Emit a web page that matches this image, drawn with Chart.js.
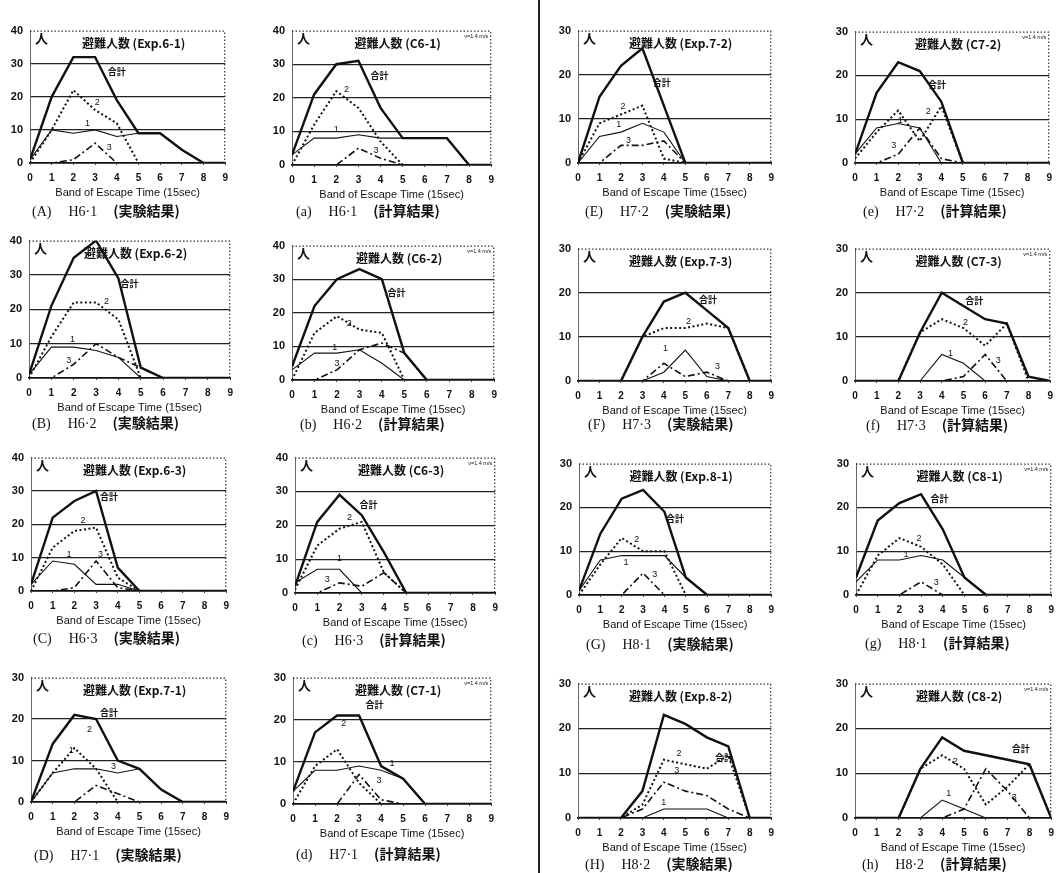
<!DOCTYPE html>
<html><head><meta charset="utf-8">
<script src="https://cdn.jsdelivr.net/npm/chart.js@4.4.1/dist/chart.umd.min.js"></script>
<style>
html,body{margin:0;padding:0;background:#fff;}
body{width:1060px;height:873px;position:relative;overflow:hidden;}
canvas{position:absolute;}
.cap{position:absolute;font-size:14px;color:#111;white-space:nowrap;line-height:16px;}
.cap span{display:inline-block;}
.cap .a{font-family:'Liberation Serif',serif;}
.cap .b{font-family:'Liberation Serif',serif;margin-left:17px;}
.cap .c{font-family:'Noto Sans CJK JP',sans-serif;font-weight:bold;margin-left:16px;}
#divider{position:absolute;left:538px;top:0;width:2px;height:873px;background:#222;}
</style></head>
<body>
<div id="divider"></div>
<script>
// ---- categories ----
const BANDS = [0,1,2,3,4,5,6,7,8,9];
const SERIES_NAMES = ['合計','1','2','3'];

// ---- values (people per band): total, 1, 2, 3 ----
const A_total=[1,20,32,32,19,9,9,4,0,0], A_s1=[1,10,9,10,8,9,9,4,0,0], A_s2=[0,10,22,16,12,0,0,0,0,0], A_s3=[0,0,1,6,0,0,0,0,0,0];
const a_total=[3,21,30,31,17,8,8,8,0,0], a_s1=[3,8,8,9,8,8,8,8,0,0], a_s2=[0,12,22,17,7,0,0,0,0,0], a_s3=[0,0,0,5,2,0,0,0,0,0];
const E_total=[0,15,22,26,13,0,0,0,0,0], E_s1=[0,6,7,9,7,0,0,0,0,0], E_s2=[0,9,11,13,1,0,0,0,0,0], E_s3=[0,0,4,4,5,0,0,0,0,0];
const e_total=[2,16,23,21,14,0,0,0,0,0], e_s1=[2,8,9,8,0,0,0,0,0,0], e_s2=[1,7,12,5,13,0,0,0,0,0], e_s3=[0,0,2,8,1,0,0,0,0,0];
const B_total=[1,21,35,40,29,3,0,0,0,0], B_s1=[1,9,9,8,6,0,0,0,0,0], B_s2=[0,12,22,22,17,0,0,0,0,0], B_s3=[0,0,4,10,6,3,0,0,0,0];
const b_total=[4,22,30,33,30,8,0,0,0,0], b_s1=[3,8,8,9,5,0,0,0,0,0], b_s2=[0,14,19,15,14,0,0,0,0,0], b_s3=[0,0,3,9,11,8,0,0,0,0];
const F_total=[0,0,0,10,18,20,16,12,0,0], F_s1=[0,0,0,0,2,7,1,0,0,0], F_s2=[0,0,0,10,12,12,13,12,0,0], F_s3=[0,0,0,0,4,1,2,0,0,0];
const f_total=[0,0,0,11,20,17,14,13,1,0], f_s1=[0,0,0,0,6,4,0,0,0,0], f_s2=[0,0,0,11,14,12,8,13,0,0], f_s3=[0,0,0,0,0,1,6,0,0,0];
const C_total=[2,22,27,30,7,0,0,0,0,0], C_s1=[2,9,8,2,2,0,0,0,0,0], C_s2=[0,13,18,19,4,0,0,0,0,0], C_s3=[0,0,1,9,1,0,0,0,0,0];
const c_total=[2,21,29,23,12,0,0,0,0,0], c_s1=[3,7,7,0,0,0,0,0,0,0], c_s2=[1,14,19,21,6,0,0,0,0,0], c_s3=[0,0,3,2,6,0,0,0,0,0];
const G_total=[1,14,22,24,19,4,0,0,0,0], G_s1=[1,8,9,9,9,4,0,0,0,0], G_s2=[0,7,13,10,10,0,0,0,0,0], G_s3=[0,0,0,5,0,0,0,0,0,0];
const g_total=[4,17,21,23,15,4,0,0,0,0], g_s1=[3,8,8,9,8,4,0,0,0,0], g_s2=[0,9,13,11,7,0,0,0,0,0], g_s3=[0,0,0,3,0,0,0,0,0,0];
const D_total=[0,14,21,20,10,8,3,0,0,0], D_s1=[0,7,8,8,7,8,3,0,0,0], D_s2=[0,7,13,8,0,0,0,0,0,0], D_s3=[0,0,0,4,2,0,0,0,0,0];
const d_total=[3,17,21,21,9,6,0,0,0,0], d_s1=[3,8,8,9,8,6,0,0,0,0], d_s2=[0,9,13,5,0,0,0,0,0,0], d_s3=[0,0,0,7,1,0,0,0,0,0];
const H_total=[0,0,0,6,23,21,18,16,0,0], H_s1=[0,0,0,0,2,2,2,0,0,0], H_s2=[0,0,0,3,13,12,11,14,0,0], H_s3=[0,0,0,2,8,6,5,2,0,0];
const h_total=[0,0,0,11,18,15,14,13,12,0], h_s1=[0,0,0,0,4,2,0,0,0,0], h_s2=[0,0,0,11,14,11,3,7,12,0], h_s3=[0,0,0,0,0,2,11,6,0,0];

// ---- label anchors (band, people): 合計, 1, 2, 3 ----
const A_lbl=[[4.0,27.5],[2.65,11.9],[3.1,18.3],[3.65,4.6]];
const a_lbl=[[3.95,26.6],[2.0,10.6],[2.46,22.6],[3.8,4.3]];
const E_lbl=[[3.9,18.3],[1.9,8.7],[2.1,12.8],[2.35,5.2]];
const e_lbl=[[3.8,17.9],[2.1,9.8],[3.4,11.8],[1.8,4.1]];
const B_lbl=[[4.5,27.4],[1.95,11.2],[3.47,22.4],[1.78,5]];
const b_lbl=[[4.65,26],[1.9,9.7],[2.55,16.9],[2.0,4.9]];
const F_lbl=[[6.05,18.5],[4.07,7.4],[5.15,13.5],[6.5,3.3]];
const f_lbl=[[5.5,18.3],[4.4,6.3],[5.1,13.3],[6.6,4.6]];
const C_lbl=[[3.6,28.2],[1.75,11],[2.4,21],[3.2,11]];
const c_lbl=[[3.3,26],[2.0,10.2],[2.45,22.4],[1.45,4]];
const G_lbl=[[4.5,17.5],[2.2,7.4],[2.7,12.7],[3.55,4.6]];
const g_lbl=[[3.85,21.9],[2.3,9.2],[2.9,12.9],[3.7,2.8]];
const D_lbl=[[3.6,21.5],[1.85,12.5],[2.7,17.5],[3.8,8.5]];
const d_lbl=[[3.7,23.5],[4.5,9.5],[2.3,19],[3.9,5.5]];
const H_lbl=[[6.8,13.5],[4.0,3.5],[4.7,14.5],[4.6,10.5]];
const h_lbl=[[7.6,15.5],[4.3,5.5],[4.6,12.5],[7.3,4.5]];

const X_TITLE = 'Band of Escape Time (15sec)';

const PANELS = [
 {title:'避難人数 (Exp.6-1)', ymax:40, calc:false, cap:['(A)','H6·1','(実験結果)'], d:[A_total,A_s1,A_s2,A_s3], lbl:A_lbl, box:[30,25,231,163], capPos:[32,202]},
 {title:'避難人数 (C6-1)', ymax:40, calc:true, cap:['(a)','H6·1','(計算結果)'], d:[a_total,a_s1,a_s2,a_s3], lbl:a_lbl, box:[292,25,497,165], capPos:[296,202]},
 {title:'避難人数 (Exp.7-2)', ymax:30, calc:false, cap:['(E)','H7·2','(実験結果)'], d:[E_total,E_s1,E_s2,E_s3], lbl:E_lbl, box:[578,25,777,163], capPos:[585,202]},
 {title:'避難人数 (C7-2)', ymax:30, calc:true, cap:['(e)','H7·2','(計算結果)'], d:[e_total,e_s1,e_s2,e_s3], lbl:e_lbl, box:[855,26,1055,163], capPos:[863,202]},
 {title:'避難人数 (Exp.6-2)', ymax:40, calc:false, cap:['(B)','H6·2','(実験結果)'], d:[B_total,B_s1,B_s2,B_s3], lbl:B_lbl, box:[29,235,236,378], capPos:[32,414]},
 {title:'避難人数 (C6-2)', ymax:40, calc:true, cap:['(b)','H6·2','(計算結果)'], d:[b_total,b_s1,b_s2,b_s3], lbl:b_lbl, box:[292,240,500,380], capPos:[300,415]},
 {title:'避難人数 (Exp.7-3)', ymax:30, calc:false, cap:['(F)','H7·3','(実験結果)'], d:[F_total,F_s1,F_s2,F_s3], lbl:F_lbl, box:[578,243,777,381], capPos:[588,415]},
 {title:'避難人数 (C7-3)', ymax:30, calc:true, cap:['(f)','H7·3','(計算結果)'], d:[f_total,f_s1,f_s2,f_s3], lbl:f_lbl, box:[855,243,1056,381], capPos:[866,416]},
 {title:'避難人数 (Exp.6-3)', ymax:40, calc:false, cap:['(C)','H6·3','(実験結果)'], d:[C_total,C_s1,C_s2,C_s3], lbl:C_lbl, box:[31,452,232,591], capPos:[33,629]},
 {title:'避難人数 (C6-3)', ymax:40, calc:true, cap:['(c)','H6·3','(計算結果)'], d:[c_total,c_s1,c_s2,c_s3], lbl:c_lbl, box:[295,452,501,593], capPos:[302,631]},
 {title:'避難人数 (Exp.8-1)', ymax:30, calc:false, cap:['(G)','H8·1','(実験結果)'], d:[G_total,G_s1,G_s2,G_s3], lbl:G_lbl, box:[579,458,777,595], capPos:[586,635]},
 {title:'避難人数 (C8-1)', ymax:30, calc:true, cap:['(g)','H8·1','(計算結果)'], d:[g_total,g_s1,g_s2,g_s3], lbl:g_lbl, box:[856,458,1057,595], capPos:[865,634]},
 {title:'避難人数 (Exp.7-1)', ymax:30, calc:false, cap:['(D)','H7·1','(実験結果)'], d:[D_total,D_s1,D_s2,D_s3], lbl:D_lbl, box:[31,672,232,802], capPos:[34,846]},
 {title:'避難人数 (C7-1)', ymax:30, calc:true, cap:['(d)','H7·1','(計算結果)'], d:[d_total,d_s1,d_s2,d_s3], lbl:d_lbl, box:[293,672,497,804], capPos:[296,845]},
 {title:'避難人数 (Exp.8-2)', ymax:30, calc:false, cap:['(H)','H8·2','(実験結果)'], d:[H_total,H_s1,H_s2,H_s3], lbl:H_lbl, box:[578,678,777,818], capPos:[585,855]},
 {title:'避難人数 (C8-2)', ymax:30, calc:true, cap:['(h)','H8·2','(計算結果)'], d:[h_total,h_s1,h_s2,h_s3], lbl:h_lbl, box:[855,678,1057,818], capPos:[862,855]}
];

const STYLES = [
 {borderWidth:2.4, borderDash:[]},
 {borderWidth:1.1, borderDash:[]},
 {borderWidth:2.0, borderDash:[2,2.5]},
 {borderWidth:1.6, borderDash:[7,3,2,3]}
];

const decor = {
 id:'decor',
 afterDraw(chart, args, opts){
  const p = opts.panel; if(!p) return;
  const {ctx, chartArea:a} = chart; const x = chart.scales.x, y = chart.scales.y;
  ctx.save();
  ctx.strokeStyle='#333'; ctx.lineWidth=1.2; ctx.setLineDash([1.5,2]);
  ctx.beginPath(); ctx.moveTo(a.left, a.top+0.5); ctx.lineTo(a.right-0.5, a.top+0.5); ctx.lineTo(a.right-0.5, a.bottom); ctx.stroke();
  ctx.setLineDash([]);
  ctx.fillStyle='#111';
  ctx.font="bold 13px 'Noto Sans CJK JP'"; ctx.textAlign='left'; ctx.textBaseline='top';
  ctx.fillText('人', a.left+5, a.top+1);
  ctx.font="bold 12px 'Noto Sans CJK JP'"; ctx.textAlign='center'; ctx.textBaseline='middle';
  ctx.fillText(p.title, (a.left+a.right)/2+6, a.top+13);
  if(p.calc){ ctx.font="5.5px 'Liberation Sans'"; ctx.textAlign='right'; ctx.textBaseline='top'; ctx.fillText('v=1.4 m/s', a.right-3, a.top+3); }
  ctx.textAlign='center'; ctx.textBaseline='middle';
  p.lbl.forEach((pt,i)=>{
   ctx.font = i===0 ? "bold 9px 'Noto Sans CJK JP'" : "9px 'Liberation Sans'";
   ctx.fillText(SERIES_NAMES[i], x.getPixelForValue(pt[0]), y.getPixelForValue(pt[1]));
  });
  ctx.restore();
 }
};

const YW = 27, PT = 8, PR = 4, XH = 38;
PANELS.forEach((p)=>{
 const [l,t,r,b] = p.box;
 const cv = document.createElement('canvas');
 const left = l - YW, top = t - PT;
 const w = r - left + PR, h = (b - t) + PT + XH;
 cv.width = w; cv.height = h;
 cv.style.left = left+'px'; cv.style.top = top+'px';
 cv.style.width = w+'px'; cv.style.height = h+'px';
 document.body.appendChild(cv);
 const datasets = p.d.map((vals,i)=>({
  label: SERIES_NAMES[i],
  data: BANDS.map((bx,k)=>({x:bx, y:vals[k]})),
  borderColor:'#111', backgroundColor:'#111',
  borderWidth: STYLES[i].borderWidth, borderDash: STYLES[i].borderDash,
  pointRadius:0, tension:0, fill:false, order: 3-i
 }));
 new Chart(cv, {
  type:'line',
  data:{datasets},
  options:{
   responsive:false, animation:false, devicePixelRatio:1,
   layout:{padding:{top:PT, right:PR, left:0, bottom:0}},
   plugins:{legend:{display:false}, tooltip:{enabled:false}, decor:{panel:p}},
   scales:{
    x:{type:'linear', min:0, max:9,
       ticks:{stepSize:1, color:'#111', font:{family:'Liberation Sans', size:10, weight:'bold'}, padding:7, maxRotation:0},
       grid:{drawOnChartArea:false, tickLength:2, color:'#444'},
       border:{color:'#111', width:1.8},
       title:{display:true, text:X_TITLE, color:'#111', font:{family:'Liberation Sans', size:11}, padding:{top:2,bottom:1}},
       afterFit(s){ s.height = XH; }
    },
    y:{min:0, max:p.ymax,
       ticks:{stepSize:10, color:'#111', font:{family:'Liberation Sans', size:11, weight:'bold'}, padding:7},
       grid:{drawTicks:false, lineWidth:1.3, color:(c)=> (c.tick && (c.tick.value===0 || c.tick.value===p.ymax)) ? 'rgba(0,0,0,0)' : '#222'},
       border:{color:'#666', width:1},
       afterFit(s){ s.width = YW; }
    }
   }
  },
  plugins:[decor]
 });
 const cap = document.createElement('div');
 cap.className='cap';
 cap.style.left = p.capPos[0]+'px'; cap.style.top = p.capPos[1]+'px';
 cap.innerHTML = '<span class="a">'+p.cap[0]+'</span><span class="b">'+p.cap[1]+'</span><span class="c">'+p.cap[2]+'</span>';
 document.body.appendChild(cap);
});
</script>
</body></html>
